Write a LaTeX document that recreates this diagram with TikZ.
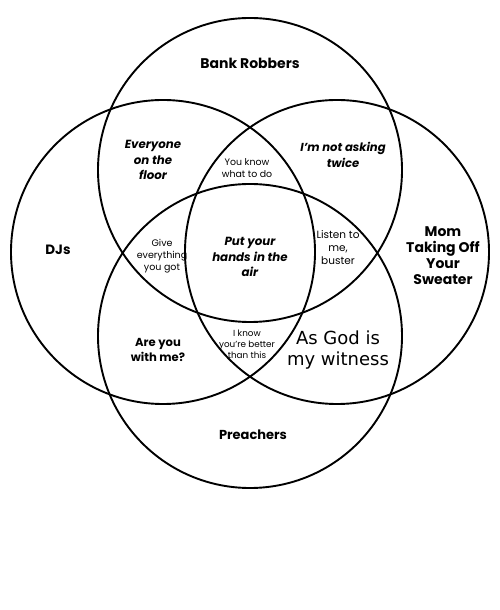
\documentclass[tikz,border=0pt]{standalone}
\usepackage{fontspec}
\setmainfont{Poppins}
\newfontfamily\plainsans{DejaVu Sans}
\usepackage{tikz}
\usetikzlibrary{positioning}

\begin{document}
\begin{tikzpicture}[x=1pt,y=1pt,
    ring/.style={line width=1.9pt},
    group/.style={align=center,font=\fontsize{13.5}{16}\selectfont\bfseries},
    shout/.style={align=center,font=\fontsize{11.8}{15.5}\selectfont\bfseries\itshape},
    mutter/.style={align=center,font=\fontsize{9.5}{12}\selectfont},
    witness/.style={align=center,font=\plainsans\fontsize{18}{21}\selectfont}
]
\useasboundingbox (0,0) rectangle (500,610);

% Circles
\draw[ring] (250,440) circle (152);
\draw[ring] (163,358) circle (152);
\draw[ring] (337,358) circle (152);
\draw[ring] (250,274) circle (152);

% Groups
\node[group,font=\fontsize{14}{16}\selectfont\bfseries] (robbers) at (250,547) {Bank Robbers};
\node[group] (djs) at (58,360) {DJs};
\node[group,font=\fontsize{14}{16}\selectfont\bfseries] (mom) at (443,354) {Mom\\Taking Off\\Your\\Sweater};
\node[group,font=\fontsize{13}{16}\selectfont\bfseries] (preachers) at (253,175) {Preachers};

% Phrases
\node[shout] (floor) at (153,450) {Everyone\\on the\\floor};
\node[shout,font=\fontsize{11.6}{15.5}\selectfont\bfseries\itshape] (twice) at (343,455) {I'm not asking\\twice};
\node[mutter,font=\fontsize{9.4}{11.5}\selectfont] (knowwhat) at (247,442) {You know\\what to do};
\node[mutter] (give) at (162,354) {Give\\everything\\you got};
\node[shout] (hands) at (250,353) {Put your\\hands in the\\air};
\node[mutter,font=\fontsize{10.5}{13}\selectfont] (listen) at (338,362) {Listen to\\me,\\buster};
\node[shout,font=\fontsize{11.6}{15.5}\selectfont\bfseries] (withme) at (158,260) {Are you\\with me?};
\node[mutter,font=\fontsize{8.8}{11}\selectfont] (better) at (247,266) {I know\\you're better\\than this};
\node[witness] (god) at (338,260) {As God is\\my witness};

\end{tikzpicture}
\end{document}
